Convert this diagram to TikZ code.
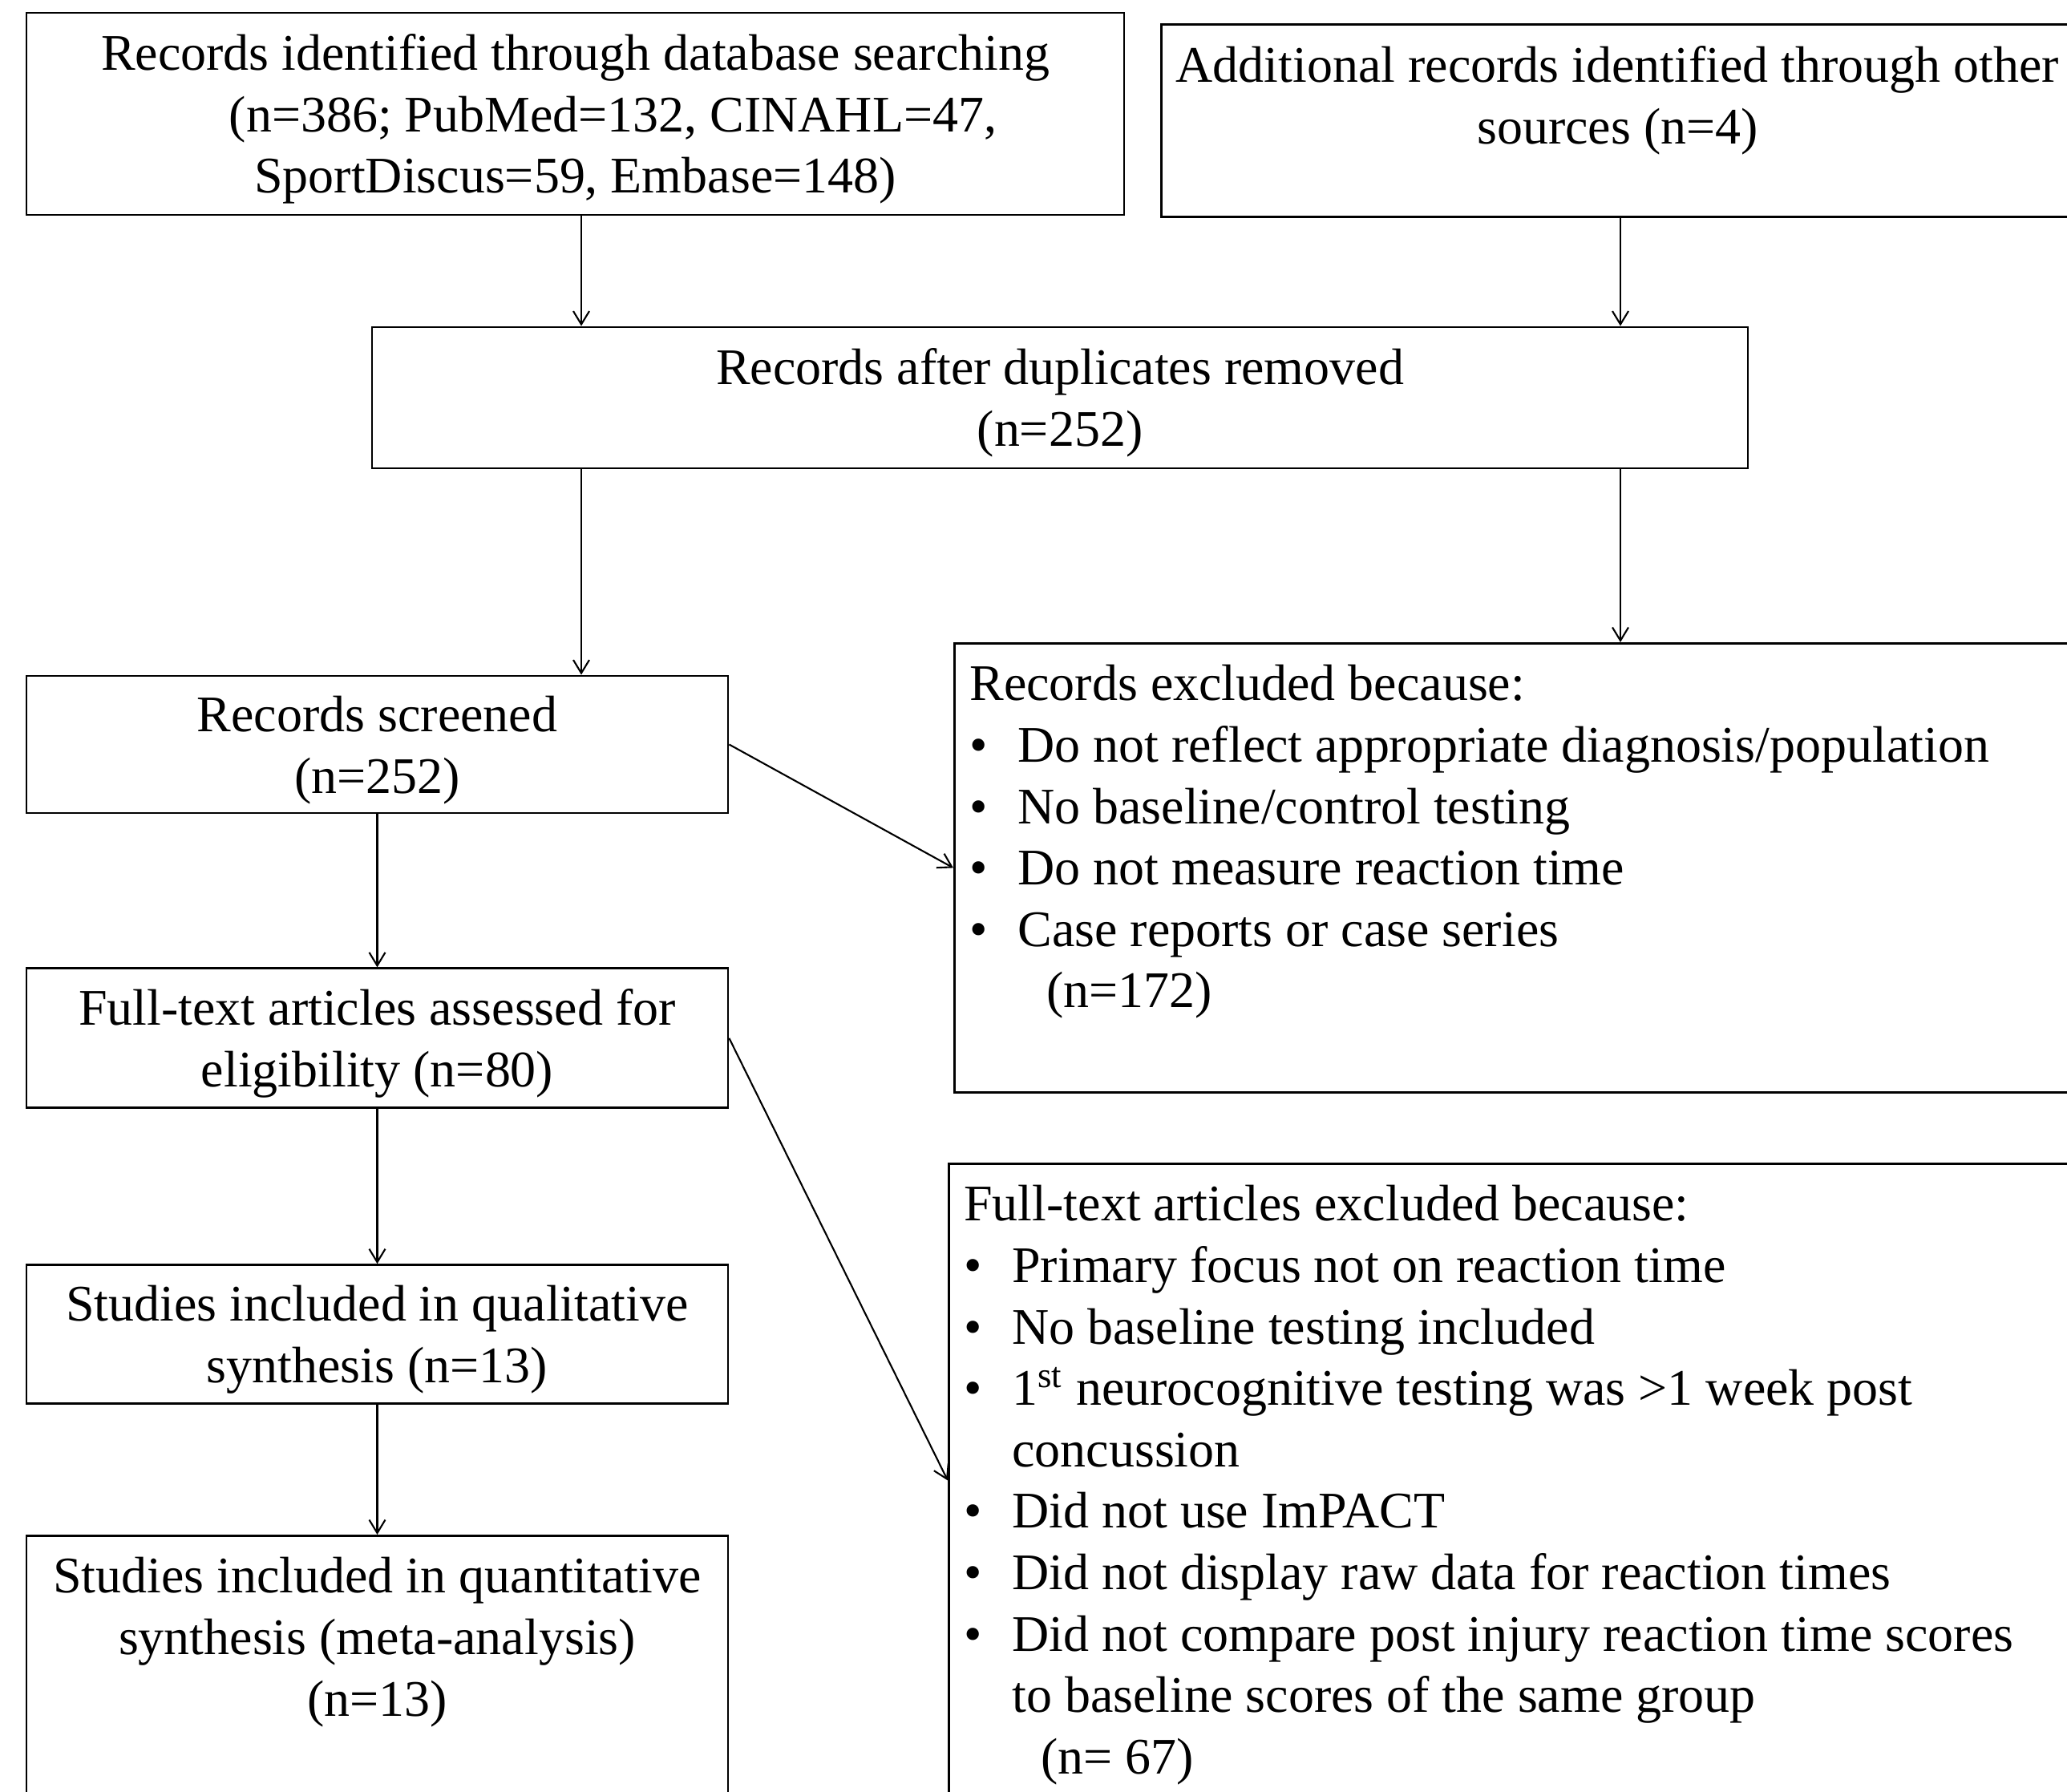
\documentclass[tikz,border=0pt]{standalone}
\usepackage{fontspec}
\setmainfont{Liberation Serif}
\usetikzlibrary{arrows.meta,positioning}

\newcommand{\toptext}[3]{\begin{minipage}[t][#2][t]{#1}#3\end{minipage}}
\newcommand{\itm}{\makebox[0.60cm][l]{\textbullet}}
\newcommand{\lift}{\rule{0pt}{0.58cm}}

\begin{document}
\begin{tikzpicture}[>={Straight Barb[length=0.165cm,width=0.2cm]},
  box/.style={draw, line width=0.8pt, inner sep=0pt, font=\fontsize{18.2}{21.8}\selectfont},
  midbox/.style={box, align=center, minimum width=8.75cm},
  topbox/.style={box, inner xsep=0.19cm, inner ysep=0.27cm},
  link/.style={->, line width=0.6pt}]
\useasboundingbox (0,0) rectangle (25.78,-22.35);
\node (ident) [box, align=center, minimum width=13.69cm, minimum height=2.52cm] at (7.175,-1.42)
  {\lift Records identified through database searching\\ \hspace*{0.94cm}(n=386; PubMed=132, CINAHL=47,\\ SportDiscus=59, Embase=148)};
\node (other) [topbox, anchor=north west, inner xsep=0.05cm] at (14.47,-0.29)
  {\toptext{11.28cm}{1.86cm}{\centering Additional records identified through other\\ sources (n=4)}};
\node (dup) [box, align=center, minimum width=17.16cm, minimum height=1.76cm] at (13.22,-4.96)
  {\lift Records after duplicates removed\\ (n=252)};
\node (screen) [midbox, minimum height=1.71cm] at (4.705,-9.285) {\lift Records screened\\ (n=252)};
\node (full) [midbox, minimum height=1.74cm, below=1.91cm of screen] {\lift Full-text articles assessed for\\ eligibility (n=80)};
\node (qual) [midbox, minimum height=1.73cm, below=1.93cm of full] {\lift Studies included in qualitative\\ synthesis (n=13)};
\node (quant) [topbox, inner xsep=0.1cm, below=1.62cm of qual]
  {\toptext{8.55cm}{3.2cm}{\centering Studies included in quantitative\\ synthesis (meta-analysis)\\ (n=13)}};
\node (excl1) [topbox, anchor=north west] at (11.89,-8.01)
  {\toptext{13.9cm}{5.06cm}{\raggedright Records excluded because:\\
  \itm Do not reflect appropriate diagnosis/population\\
  \itm No baseline/control testing\\
  \itm Do not measure reaction time\\
  \itm Case reports or case series\\
  \hspace*{0.96cm}(n=172)}};
\node (excl2) [topbox, anchor=north west] at (11.82,-14.50)
  {\toptext{14.0cm}{7.36cm}{\raggedright Full-text articles excluded because:\\
  \itm Primary focus not on reaction time\\
  \itm No baseline testing included\\
  \itm 1\textsuperscript{st} neurocognitive testing was >1 week post\\
  \hspace*{0.60cm}concussion\\
  \itm Did not use ImPACT\\
  \itm Did not display raw data for reaction times\\
  \itm Did not compare post injury reaction time scores\\
  \hspace*{0.60cm}to baseline scores of the same group\\
  \hspace*{0.96cm}(n= 67)}};
\coordinate (lx) at (7.25,0);
\coordinate (rx) at (20.21,0);
\draw[link] (ident.south -| lx) -- (dup.north -| lx);
\draw[link] (other.south -| rx) -- (dup.north -| rx);
\draw[link] (dup.south -| lx) -- (screen.north -| lx);
\draw[link] (dup.south -| rx) -- (excl1.north -| rx);
\draw[link] (screen) -- (full);
\draw[link] (full) -- (qual);
\draw[link] (qual) -- (quant);
\draw[link] (screen.east) -- (excl1.west);
\draw[link] (full.east) -- (excl2.west);
\end{tikzpicture}
\end{document}
